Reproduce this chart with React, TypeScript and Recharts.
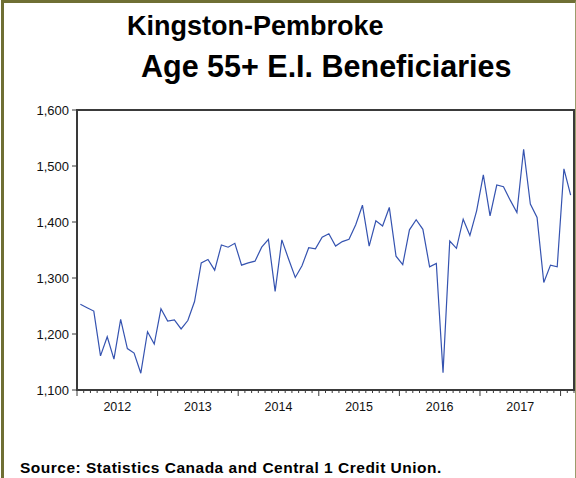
import { LineChart, Line, XAxis, YAxis, ReferenceArea } from 'recharts'

// monthly, Jan 2012 .. Feb 2018
const yearLabels = ['2012', '2013', '2014', '2015', '2016', '2017']
const beneficiaries = [
  1253, 1247, 1241, 1161, 1195, 1155, 1226, 1174, 1166, 1130, 1204, 1182,
  1245, 1223, 1225, 1209, 1224, 1258, 1327, 1333, 1314, 1359, 1355, 1362,
  1323, 1327, 1330, 1355, 1369, 1276, 1368, 1334, 1301, 1322, 1354, 1352,
  1373, 1379, 1357, 1365, 1369, 1395, 1430, 1357, 1402, 1393, 1426, 1339,
  1324, 1386, 1404, 1387, 1320, 1326, 1131, 1366, 1353, 1405, 1376, 1420,
  1484, 1411, 1466, 1463, 1439, 1417, 1530, 1432, 1408, 1292, 1323, 1320,
  1495, 1448,
]
const yTicks = [1100, 1200, 1300, 1400, 1500, 1600]

const data = beneficiaries.map((v, i) => ({ t: i + 0.5, value: v }))
const nMonths = beneficiaries.length
const monthTicks = Array.from({ length: nMonths + 1 }, (_, i) => i)

const FONT = '"Liberation Sans", Arial, sans-serif'
const AXIS = '#3a3a3a'

function MonthTick(props: any) {
  const { x, y, payload } = props
  const v = payload.value as number
  const major = v % 12 === 0
  const label = v % 12 === 6 ? yearLabels[Math.floor(v / 12)] : null
  return (
    <g>
      <line x1={x} y1={y} x2={x} y2={y + (major ? 6 : 3)} stroke={AXIS} strokeWidth={1} />
      {label && (
        <text x={x} y={y + 21} textAnchor="middle" fontSize={12.5} fontFamily={FONT} fill="#111">
          {label}
        </text>
      )}
    </g>
  )
}

export default function App() {
  return (
    <div style={{ position: 'fixed', left: 0, top: 0, width: 576, height: 478, background: '#fff', overflow: 'hidden', fontFamily: FONT }}>
      <div style={{
        position: 'absolute', left: 1, top: 0, width: 575, height: 520, boxSizing: 'border-box',
        borderTop: '3px solid #6f6f34', borderLeft: '3px solid #6f6f34', borderRight: '1px solid #9c9c6c',
      }} />
      <div style={{ position: 'absolute', left: 127, top: 11, fontSize: 27, fontWeight: 700, color: '#000', whiteSpace: 'nowrap' }}>
        Kingston-Pembroke
      </div>
      <div style={{ position: 'absolute', left: 141, top: 49, fontSize: 30.5, fontWeight: 700, color: '#000', whiteSpace: 'nowrap' }}>
        Age 55+ E.I. Beneficiaries
      </div>
      <div style={{ position: 'absolute', left: 20, top: 459, fontSize: 15.5, letterSpacing: 0.5, fontWeight: 700, color: '#000', whiteSpace: 'nowrap' }}>
        Source: Statistics Canada and Central 1 Credit Union.
      </div>
      <div style={{ position: 'absolute', left: 0, top: 0 }}>
        <LineChart width={576} height={478} data={data} margin={{ top: 110, right: 2, left: 0, bottom: 58 }}>
          <XAxis
            dataKey="t"
            type="number"
            domain={[0, nMonths]}
            ticks={monthTicks}
            interval={0}
            tick={<MonthTick />}
            tickLine={false}
            tickSize={0}
            tickMargin={0}
            axisLine={{ stroke: AXIS, strokeWidth: 2 }}
            height={30}
            allowDataOverflow
          />
          <YAxis
            type="number"
            domain={[1100, 1600]}
            ticks={yTicks}
            interval={0}
            width={77}
            tickSize={5}
            tickMargin={3}
            tickFormatter={(v: number) => v.toLocaleString('en-US')}
            tick={{ fontSize: 13, fontFamily: FONT, fill: '#111' }}
            tickLine={{ stroke: AXIS }}
            axisLine={{ stroke: AXIS, strokeWidth: 2 }}
            allowDataOverflow
          />
          <ReferenceArea x1={0} x2={nMonths} y1={1100} y2={1600} fill="none" stroke={AXIS} strokeWidth={2} ifOverflow="visible" />
          <Line
            type="linear"
            dataKey="value"
            stroke="#3553b0"
            strokeWidth={1.2}
            dot={false}
            isAnimationActive={false}
          />
        </LineChart>
      </div>
    </div>
  )
}
